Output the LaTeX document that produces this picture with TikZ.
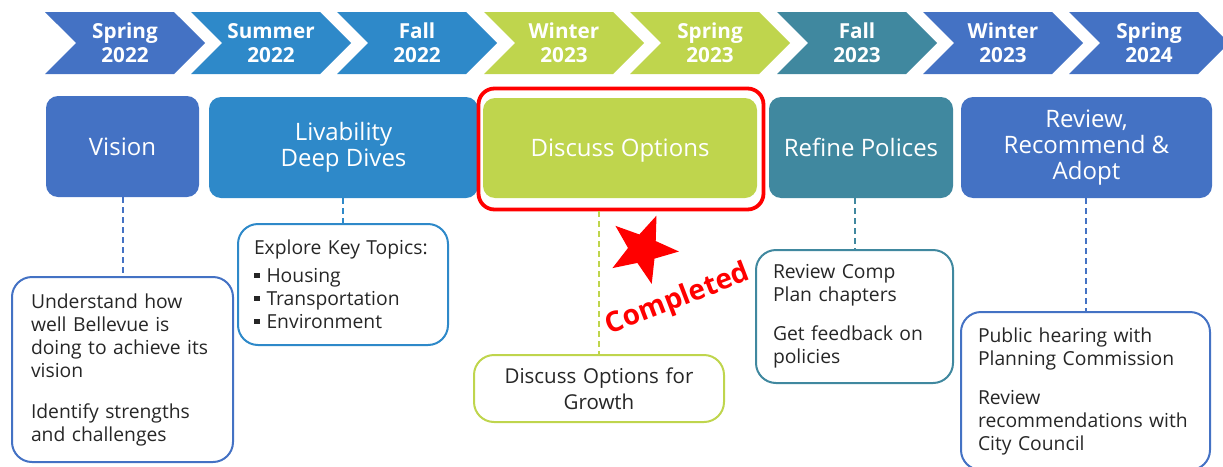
\documentclass[tikz,border=0pt]{standalone}
\usepackage{fontspec}
\setmainfont{Open Sans}
\usetikzlibrary{shapes.symbols,shapes.geometric}
\definecolor{planblue}{HTML}{4472C4}
\definecolor{seablue}{HTML}{2E89C9}
\definecolor{lime}{HTML}{BFD54D}
\definecolor{planteal}{HTML}{40889F}
\definecolor{ink}{HTML}{262626}
\newcommand{\sqbul}{\rule[4.5pt]{5.5pt}{5.5pt}\hspace{7pt}}
\begin{document}
\begin{tikzpicture}
[
    x=1pt, y=-1pt,
    phase/.style={shape=signal, signal from=west, signal to=east, signal pointer angle=90, minimum width=160pt, minimum height=62pt, inner sep=0pt, text=white, align=center, font=\bfseries\fontsize{20.7}{24}\selectfont},
    stage/.style={rounded corners=12pt, minimum height=101pt, inner sep=0pt, text=white, align=center, font=\fontsize{24}{26}\selectfont},
    note/.style={draw, line width=2pt, rounded corners=20pt, inner ysep=0pt, text=ink, font=\fontsize{19.3}{23}\selectfont},
    link/.style={line width=2pt, dash pattern=on 6pt off 4pt},
]
\useasboundingbox (0,0) rectangle (1223,466);
\foreach \x/\c/\s/\y [count=\i] in {125/planblue/Spring/2022, 271/seablue/Summer/2022, 417/seablue/Fall/2022, 564/lime/Winter/2023, 710/lime/Spring/2023, 857/planteal/Fall/2023, 1003/planblue/Winter/2023, 1149/planblue/Spring/2024}
    \node [phase, fill=\c] (p\i) at (\x,43) {\s\\\y};
\node [stage, fill=planblue, minimum width=153pt] (vision) at (122.5,146.5) {Vision};
\node [stage, fill=seablue, minimum width=269pt] (deep) at (343.5,147.5) {Livability\\Deep Dives};
\node [draw=red, line width=3.8pt, rounded corners=16pt, minimum width=285pt, minimum height=121pt] (done) at (621,149) {};
\node [stage, fill=lime, minimum width=274pt, minimum height=100pt] (options) at (620,148) {\raisebox{-3pt}[\height][\depth]{Discuss Options}};
\node [stage, fill=planteal, minimum width=184pt] (refine) at (861,147.5) {Refine Polices};
\node [stage, fill=planblue, minimum width=251pt] (adopt) at (1086.5,147.5) {Review,\\Recommend \&\\Adopt};
\node [note, draw=planblue, minimum width=221pt, minimum height=185pt, inner xsep=19pt, text width=183pt, align=left] (vnote) at (122.5,369.5)
    {Understand how\\well Bellevue is\\doing to achieve its\\vision\\[18pt]Identify strengths\\and challenges};
\node [note, draw=seablue, minimum width=210pt, minimum height=121pt, inner xsep=16pt, text width=178pt, align=left] (lnote) at (343,284.5)
    {Explore Key Topics:\\[5pt]\sqbul Housing\\\sqbul Transportation\\\sqbul Environment};
\node [note, draw=lime, minimum width=250pt, minimum height=67pt, inner xsep=10pt, text width=230pt, align=center, font=\fontsize{20.5}{26}\selectfont] (dnote) at (599,388.5)
    {Discuss Options for\\Growth};
\node [note, draw=planteal, minimum width=197pt, minimum height=133pt, inner xsep=17pt, text width=163pt, align=left] (rnote) at (854.5,316.5)
    {Review Comp\\Plan chapters\\[16pt]Get feedback on\\policies};
\node [note, draw=planblue, minimum width=249pt, minimum height=158pt, inner xsep=17pt, text width=215pt, align=left] (anote) at (1085.5,391)
    {Public hearing with\\Planning Commission\\[16pt]Review\\recommendations with\\City Council};
\draw [link, planblue] (vision.south -| vnote) -- (vnote.north);
\draw [link, seablue] (deep.south -| lnote) -- (lnote.north);
\draw [link, lime] (done.south -| dnote) -- (dnote.north);
\draw [link, planteal] (refine.south -| rnote) -- (rnote.north);
\draw [link, planblue] (adopt.south -| anote) -- (anote.north);
\node [star, star points=5, star point ratio=2.4, fill=red, minimum size=72pt, inner sep=0pt, rotate=-22] (star) at (643,249) {};
\node [text=red, rotate=21, font=\bfseries\fontsize{28}{30}\selectfont] (completed) at (678,300) {Completed};
\end{tikzpicture}
\end{document}
